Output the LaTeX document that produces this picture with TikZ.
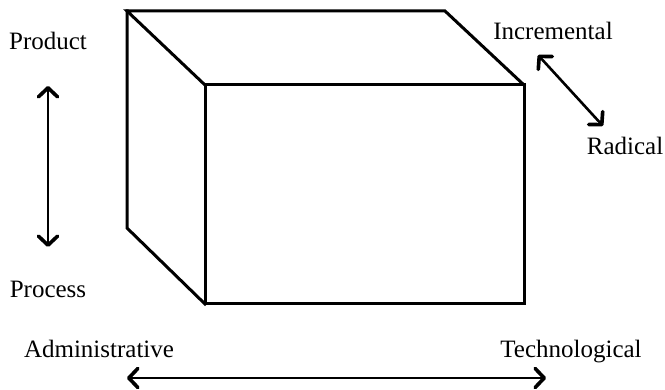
\documentclass[tikz,border=0pt]{standalone}
\usepackage{fontspec}
\setmainfont{Liberation Serif}
\usetikzlibrary{arrows.meta}
\begin{document}
\begin{tikzpicture}[x=1pt,y=-1pt,
  edge/.style={line width=3pt,line join=miter,line cap=rect},
  barb/.tip={Straight Barb[length=9pt,width=19pt,line width=0pt 1.4,round]},
  dimarrow/.style={line width=2.6pt,barb-barb},
  lbl/.style={inner sep=0pt,anchor=base,font=\fontsize{25}{30}\selectfont}]
\useasboundingbox (0,0) rectangle (665,390);
% corners of the box
\coordinate (btl) at (127,11);
\coordinate (btr) at (445,11);
\coordinate (bbl) at (127,228);
\coordinate (ftl) at (205,85);
\coordinate (ftr) at (524,85);
\coordinate (fbr) at (524,304);
\coordinate (fbl) at (205,304);
% visible edges
\draw[edge] (ftl) rectangle (fbr);
\draw[edge] (ftl) -- (btl) -- (btr) -- (ftr);
\draw[edge] (btl) -- (bbl) -- (fbl);
% labels
\node[lbl] (product) at (48,50) {Product};
\node[lbl] (process) at (48,298) {Process};
\node[lbl] (incr) at (553,40) {Incremental};
\node[lbl] (radical) at (625,155) {Radical};
\node[lbl] (admin) at (99,358) {Administrative};
\node[lbl] (tech) at (571,358) {Technological};
% axis arrows
\coordinate (vtop) at (48,86);
\coordinate (vbot) at (48,247);
\coordinate (dtop) at (538,55);
\coordinate (dbot) at (603,126);
\coordinate (hl) at (127,378);
\coordinate (hr) at (546,378);
\draw[dimarrow] (vtop) -- (vbot);
\draw[dimarrow] (dtop) -- (dbot);
\draw[dimarrow] (hl) -- (hr);
\end{tikzpicture}
\end{document}
